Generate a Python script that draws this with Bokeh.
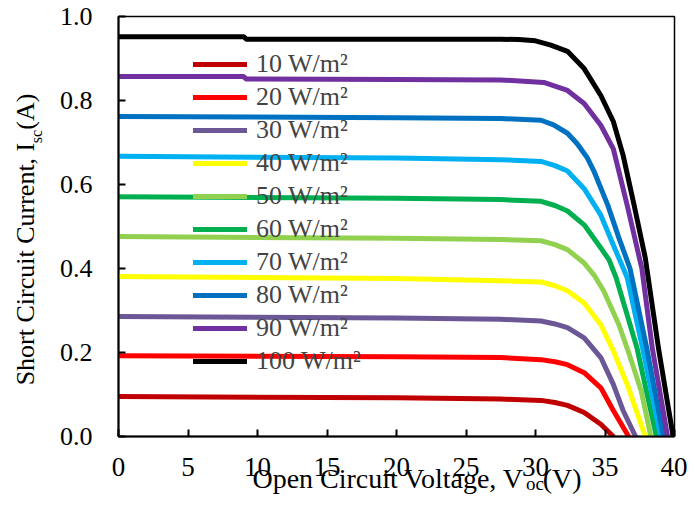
from bokeh.plotting import figure
from bokeh.models import (Legend, LegendItem, FixedTicker, PrintfTickFormatter, Range1d,
                          LinearAxis)
from bokeh.embed import file_html
from bokeh.resources import INLINE

# ---- data (V in volts, I in amperes) ----
irradiance_labels = ["10 W/m²", "20 W/m²", "30 W/m²", "40 W/m²", "50 W/m²",
                     "60 W/m²", "70 W/m²", "80 W/m²", "90 W/m²", "100 W/m²"]
colors = ["#C00000", "#FF0000", "#6B5696", "#FFFF00", "#92D050",
          "#00B050", "#00B0F0", "#0070C0", "#7030A0", "#000000"]

v_10 = [0, 20, 27.5, 30.4, 31.4, 32.3, 33.5, 34.7, 35.6]
i_10 = [0.095, 0.092, 0.089, 0.086, 0.081, 0.074, 0.057, 0.029, 0.0]

v_20 = [0, 20, 27.5, 30.4, 31.4, 32.3, 33.5, 34.7, 35.6, 36.7]
i_20 = [0.192, 0.190, 0.188, 0.183, 0.178, 0.171, 0.152, 0.116, 0.062, 0.0]

v_30 = [0, 20, 27.5, 30.4, 31.4, 32.3, 33.5, 34.7, 35.6, 36.3, 37.2]
i_30 = [0.286, 0.282, 0.279, 0.275, 0.268, 0.259, 0.235, 0.188, 0.124, 0.062, 0.0]

v_40 = [0, 20, 27.5, 30.4, 31.4, 32.3, 33.5, 34.7, 35.6, 36.6, 37.9]
i_40 = [0.381, 0.376, 0.371, 0.368, 0.359, 0.347, 0.318, 0.266, 0.204, 0.124, 0.0]

v_50 = [0, 20, 27.5, 30.4, 31.4, 32.3, 33.5, 34.2, 34.9, 36.0, 36.7, 37.6, 38.3]
i_50 = [0.476, 0.472, 0.469, 0.466, 0.457, 0.445, 0.413, 0.385, 0.347, 0.266, 0.2, 0.109, 0.0]

v_60 = [0, 20, 27.5, 30.4, 31.4, 32.3, 33.5, 34.7, 35.3, 35.8, 37.3, 38.7]
i_60 = [0.571, 0.567, 0.564, 0.560, 0.550, 0.537, 0.504, 0.449, 0.420, 0.378, 0.211, 0.0]

v_70 = [0, 20, 27.5, 30.4, 31.4, 32.3, 33.5, 34.7, 35.6, 36.6, 37.7, 39.0]
i_70 = [0.667, 0.663, 0.659, 0.655, 0.645, 0.632, 0.590, 0.527, 0.456, 0.378, 0.211, 0.0]

v_80 = [0, 20, 27.5, 30.4, 31.3, 32.3, 33.0, 33.7, 34.2, 35.2, 36.0, 36.8, 38.0, 39.2]
i_80 = [0.762, 0.759, 0.757, 0.753, 0.742, 0.722, 0.697, 0.665, 0.632, 0.551, 0.473, 0.400, 0.211, 0.0]

v_90 = [0, 9.0, 9.2, 20, 27.5, 30.6, 32.3, 33.5, 34.7, 35.6, 36.6, 37.65, 38.4, 39.5]
i_90 = [0.857, 0.857, 0.851, 0.850, 0.849, 0.843, 0.824, 0.793, 0.741, 0.685, 0.550, 0.400, 0.211, 0.0]

v_100 = [0, 9.0, 9.2, 20, 27.5, 28.8, 30.0, 31.1, 32.3, 33.5, 34.7, 35.6, 36.3, 37.1, 37.9, 38.85, 39.9]
i_100 = [0.952, 0.952, 0.946, 0.946, 0.946, 0.945, 0.942, 0.932, 0.917, 0.876, 0.812, 0.750, 0.670, 0.550, 0.425, 0.210, 0.0]

curves_v = [v_10, v_20, v_30, v_40, v_50, v_60, v_70, v_80, v_90, v_100]
curves_i = [i_10, i_20, i_30, i_40, i_50, i_60, i_70, i_80, i_90, i_100]

x_ticks = [0, 5, 10, 15, 20, 25, 30, 35, 40]
y_ticks = [0.0, 0.2, 0.4, 0.6, 0.8, 1.0]

# axis titles: main text + subscript (subscript placed at these axis values)
x_title = "\u2002\u2002\u2002Open Circuit Voltage, V\u2002\u2009(V)"
x_sub = "oc"
x_sub_at = 29.96
y_title = "Short Circuit Current, I\u2002(A)\u2002\u2002"
y_sub = "sc"
y_sub_at = 0.714

FONT = "Liberation Serif"

p = figure(width=687, height=496, x_range=Range1d(0, 40), y_range=Range1d(0, 1.0),
           output_backend="svg", toolbar_location=None,
           min_border_left=118, min_border_right=13, min_border_top=16, min_border_bottom=60)
p.grid.visible = False
p.outline_line_color = "black"
p.outline_line_width = 1.5
p.background_fill_color = "white"
p.border_fill_color = "white"

for ax in (p.xaxis[0], p.yaxis[0]):
    ax.axis_line_width = 2
    ax.axis_line_color = "black"
    ax.major_tick_in = 7
    ax.major_tick_out = 0
    ax.major_tick_line_width = 2
    ax.major_tick_line_color = "black"
    ax.minor_tick_line_color = None
    ax.major_label_text_font = FONT
    ax.major_label_text_color = "black"

p.xaxis.major_label_text_font_size = "27px"
p.yaxis.major_label_text_font_size = "26px"
p.xaxis.ticker = FixedTicker(ticks=x_ticks)
p.yaxis.ticker = FixedTicker(ticks=y_ticks)
p.yaxis.formatter = PrintfTickFormatter(format="%.1f")
p.xaxis.major_label_standoff = 21
p.yaxis.major_label_standoff = 26

# secondary axes carrying the axis titles (subscript as tick label, title as axis label)
def title_axis(sub, sub_at, title, sub_size, title_size, sub_standoff, title_standoff, orient):
    ax = LinearAxis(ticker=FixedTicker(ticks=[sub_at]),
                    major_label_overrides={sub_at: sub},
                    axis_line_color=None, major_tick_line_color=None, minor_tick_line_color=None,
                    major_tick_in=0, major_tick_out=0,
                    major_label_text_font=FONT, major_label_text_font_size=sub_size,
                    major_label_text_color="black", major_label_standoff=sub_standoff,
                    major_label_orientation=orient,
                    axis_label=title, axis_label_text_font=FONT,
                    axis_label_text_font_size=title_size, axis_label_text_font_style="normal",
                    axis_label_text_color="black", axis_label_standoff=title_standoff)
    return ax

p.add_layout(title_axis(x_sub, x_sub_at, x_title, "19px", "28px", -6, -34, "horizontal"), "below")
p.add_layout(title_axis(y_sub, y_sub_at, y_title, "16px", "26px", 11, -14, "parallel"), "left")

items = []
for v, i, c, lab in zip(curves_v, curves_i, colors, irradiance_labels):
    r = p.line(v, i, line_color=c, line_width=5, line_join="round", line_cap="round")
    items.append(LegendItem(label=lab, renderers=[r]))

legend = Legend(items=items, location=(75, 60), padding=0, spacing=3, margin=0,
                glyph_height=30, label_height=30, glyph_width=54, label_standoff=9,
                border_line_alpha=0, background_fill_alpha=0,
                label_text_font=FONT, label_text_font_size="26px")
p.add_layout(legend)

open("out.html", "w").write(file_html(p, INLINE))
